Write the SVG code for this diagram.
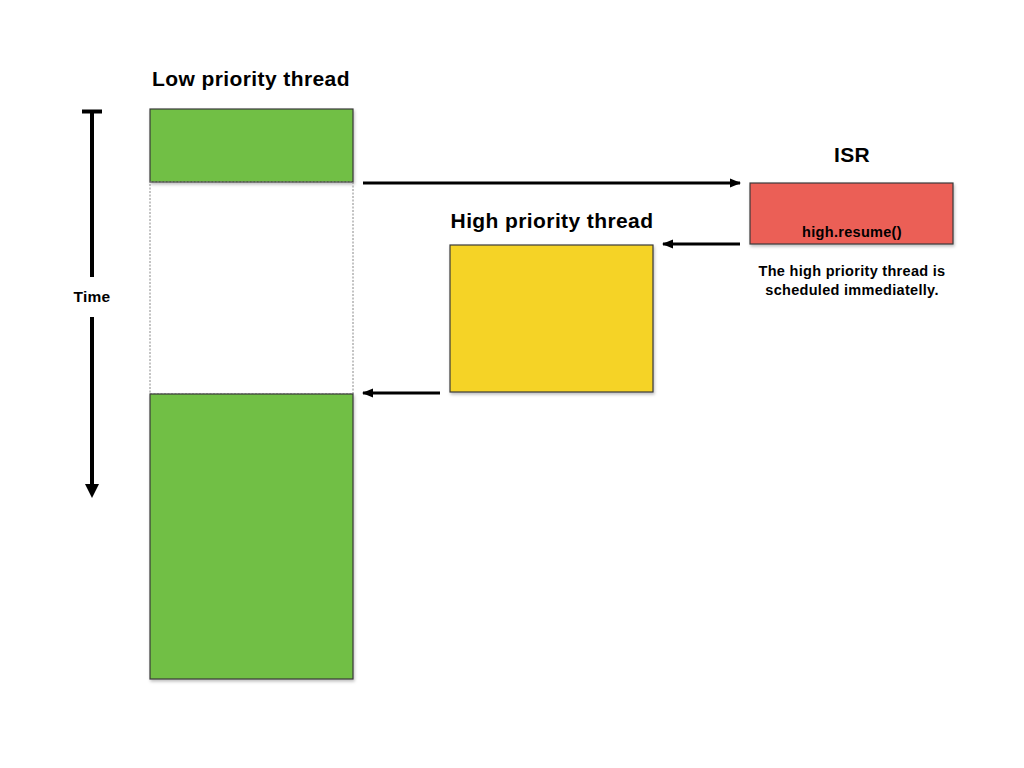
<svg xmlns="http://www.w3.org/2000/svg" width="1024" height="768" viewBox="0 0 1024 768">
<defs>
<marker id="ah" markerWidth="12" markerHeight="12" refX="10" refY="6" orient="auto" markerUnits="userSpaceOnUse">
<path d="M0,1.5 L11,6 L0,10.5 Z" fill="#000"/>
</marker>
<filter id="sh" x="-5%" y="-5%" width="115%" height="115%">
<feDropShadow dx="1" dy="2" stdDeviation="1.5" flood-color="#000" flood-opacity="0.25"/>
</filter>
</defs>
<style>
.title{font-family:"Liberation Sans",Arial,sans-serif;font-weight:bold;font-size:21px;letter-spacing:0.4px;fill:#000;text-anchor:middle}
.small{font-family:"Liberation Sans",Arial,sans-serif;font-weight:bold;font-size:14.5px;letter-spacing:0.3px;fill:#000;text-anchor:middle}
.box{stroke:#3a3a3a;stroke-width:1.2}
.conn{stroke:#000;stroke-width:3;fill:none}
</style>
<rect width="1024" height="768" fill="#fff"/>
<g id="low-thread">
<text class="title" x="251" y="86">Low priority thread</text>
<rect class="box" x="150" y="109" width="203" height="73" fill="#71bf44" filter="url(#sh)"/>
<rect x="150" y="182" width="203" height="212" fill="none" stroke="#888" stroke-width="1" stroke-dasharray="2,1.5"/>
<rect class="box" x="150" y="394" width="203" height="285" fill="#71bf44" filter="url(#sh)"/>
</g>
<g id="isr">
<text class="title" x="852" y="162">ISR</text>
<rect class="box" x="750" y="183" width="203" height="61" fill="#eb5e57" filter="url(#sh)"/>
<text class="small" x="852" y="237">high.resume()</text>
<text class="small" x="852" y="276">The high priority thread is</text>
<text class="small" x="852" y="295">scheduled immediatelly.</text>
</g>
<g id="high-thread">
<text class="title" x="552" y="228">High priority thread</text>
<rect class="box" x="450" y="245" width="203" height="147" fill="#f5d328" filter="url(#sh)"/>
</g>
<g id="time-axis">
<line x1="82" y1="111.5" x2="102" y2="111.5" stroke="#000" stroke-width="4"/>
<line x1="92" y1="110" x2="92" y2="277" stroke="#000" stroke-width="4"/>
<text x="92" y="302" font-family="'Liberation Sans',Arial,sans-serif" font-weight="bold" font-size="15.5" letter-spacing="0.3" text-anchor="middle">Time</text>
<line x1="92" y1="317" x2="92" y2="486" stroke="#000" stroke-width="4"/>
<path d="M85,484 L99,484 L92,498 Z" fill="#000"/>
</g>
<g id="connectors">
<line class="conn" x1="363" y1="183" x2="740" y2="183" marker-end="url(#ah)"/>
<line class="conn" x1="740" y1="244" x2="663" y2="244" marker-end="url(#ah)"/>
<line class="conn" x1="440" y1="393" x2="363" y2="393" marker-end="url(#ah)"/>
</g>
</svg>
